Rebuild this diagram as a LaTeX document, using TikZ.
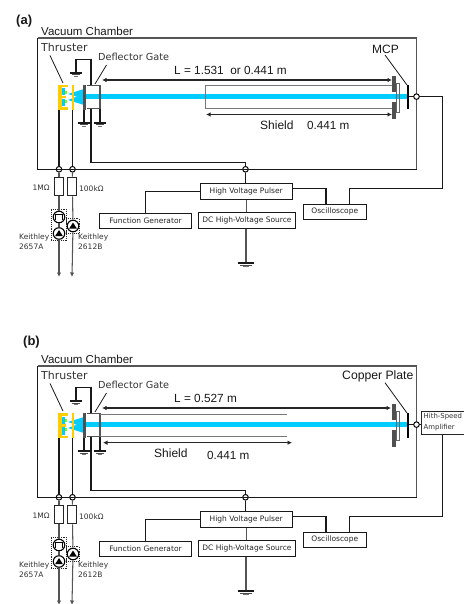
\documentclass[tikz,border=0pt]{standalone}
\usepackage{fontspec}
\setmainfont{Liberation Sans}
\newfontfamily\dvf{DejaVu Sans}
\usetikzlibrary{arrows.meta}
\definecolor{beam}{RGB}{0,204,255}
\definecolor{thr}{RGB}{255,204,0}
\definecolor{plate}{RGB}{80,80,80}
\definecolor{edge}{RGB}{85,85,85}
\definecolor{rail}{RGB}{120,120,120}
\tikzset{
  x=1pt,y=-1pt,
  wire/.style={line width=1.05pt,black!90},
  gwire/.style={line width=1.05pt,edge},
  arr/.style={line width=1.05pt,black!85,-{Latex[length=4.5pt,width=4.5pt]}},
  darr/.style={line width=1.05pt,black!85,{Latex[length=4.5pt,width=4.5pt]}-{Latex[length=4.5pt,width=4.5pt]}},
  box/.style={draw=black!90,line width=1.05pt,fill=white,inner sep=0,font=\dvf\fontsize{7.5}{9}\selectfont,text=black!85},
  jn/.style={circle,draw=black,line width=1pt,fill=white,inner sep=0,minimum size=5.6pt},
  meter/.style={circle,draw=black,line width=1.1pt,fill=white,inner sep=0,minimum size=11.5pt},
  res/.style={draw=black!85,line width=1.05pt,fill=white,inner sep=0,minimum width=9pt,minimum height=18.5pt},
  dbox/.style={draw=black!85,densely dotted,line width=0.9pt,inner sep=0},
  vs/.style={inner sep=0,anchor=west,font=\dvf\fontsize{7.5}{9}\selectfont,text=black!80},
  big/.style={inner sep=0,anchor=west,text=black!90},
  gnd/.pic={
    \draw[line width=1.05pt,black!90] (-6,0)--(6,0);
    \draw[line width=1pt,black!70] (-4.2,2)--(4.2,2);
    \draw[line width=1pt,black!55] (-2.2,3.8)--(2.2,3.8);
  }
}
\newcommand{\commonpanel}[1]{%
  % beam and thruster
  \fill[beam] (83,94) rectangle (407,99.3);
  \fill[beam] (68,94) -- (84,89) -- (84,99) -- cycle;
  \fill[beam] (68,100) -- (84,94) -- (84,105) -- cycle;
  \fill[thr] (58.3,85) rectangle (62,110);
  \fill[thr] (58.3,85) rectangle (67.5,87.5);
  \fill[thr] (58.3,96) rectangle (66,98.5);
  \fill[thr] (58.3,107.5) rectangle (67.5,110);
  \fill[beam] (62,88.5) rectangle (64.5,95.5);
  \fill[beam] (62,99) rectangle (64.5,106.5);
  \fill[green!55!yellow] (64.5,91) rectangle (66.5,94);
  \fill[green!55!yellow] (64.5,100) rectangle (66.5,103);
  \fill[thr] (71.5,85) rectangle (74,110);
  % chamber
  \coordinate (tl) at (37.5,38);
  \coordinate (tr) at (416.5,38);
  \coordinate (bl) at (37.5,169.3);
  \draw[gwire] (tl) -- (tr);
  \node[jn] (jbot) at (245.5,169.3) {};
  \node[jn] (jr1) at (59,169.3) {};
  \node[jn] (jr2) at (72.5,169.3) {};
  % gate
  \coordinate (gatetop) at (91,85.5);
  \coordinate (gatebot) at (91,108.5);
  \coordinate (g0) at (76,73);
  \coordinate (g1) at (84,123);
  \coordinate (g2) at (100,123);
  \coordinate (cornerb) at (91,162.7);
  \draw[wire] (gatetop) |- (g0 |- 0,59.5) -- (g0);
  \pic at (g0) {gnd};
  \draw[wire] (g1 |- 0,110) -- (g1);
  \draw[wire] (g2 |- 0,108) -- (g2);
  \pic at (g1) {gnd};
  \pic at (g2) {gnd};
  \draw[wire] (gatebot) -- (cornerb) -- (245.5,162.7) -- (jbot);
  \draw[line width=1.5pt,plate] (87,85.5) -- (99,85.5);
  \draw[line width=1.5pt,plate] (87,108.5) -- (99,108.5);
  \fill[plate] (83,85) rectangle (86,110);
  \draw[line width=1.5pt,edge] (100,85) -- (100,109);
  % collector
  \fill[plate] (392,76) rectangle (396,92);
  \fill[plate] (392,102) rectangle (396,119);
  \draw[line width=0.8pt,black!60] (396,83) rectangle (399.8,112);
  \fill[black] (407,85) rectangle (409.3,109.5);
  % thruster wires
  \draw[wire] (59,110) -- (jr1);
  \draw[wire] (72.5,110) -- (jr2);
  % resistors and meters
  \node[res] (r1) at (59,186.5) {};
  \node[res] (r2) at (72.4,186.5) {};
  \draw[gwire] (jr1) -- (r1);
  \draw[gwire] (jr2) -- (r2);
  \node[dbox,minimum width=15pt,minimum height=31.5pt] (k1) at (58.8,225) {};
  \node[dbox,minimum width=13pt,minimum height=14.5pt] (k2) at (72.8,226) {};
  \node[meter] (m1) at (59,217) {};
  \node[meter] (m2) at (59,233.5) {};
  \node[meter] (m3) at (73,226) {};
  \draw[line width=0.9pt] (55.5,220) -- (55.5,214.5) -- (62.5,214.5) -- (62.5,220);
  \fill[black] (59,230) -- (62.8,236) -- (55.2,236) -- cycle;
  \fill[black] (73,222.5) -- (76.8,228.5) -- (69.2,228.5) -- cycle;
  \coordinate (e1) at (59,277);
  \coordinate (e2) at (72,277);
  \draw[gwire] (r1) -- (m1);
  \draw[gwire] (m1) -- (m2);
  \draw[gwire] (r2) -- (m3);
  \draw[arr,edge] (m2) -- (e1);
  \draw[arr,edge] (m3) -- (e2);
  % instruments
  \node[box,minimum width=92.3pt,minimum height=15.6pt] (pulser) at (246.2,191.5) {High Voltage Pulser};
  \node[box,minimum width=96.6pt,minimum height=16.3pt] (dc) at (247,220.2) {DC High-Voltage Source};
  \node[box,minimum width=92.4pt,minimum height=15.4pt] (fg) at (145.5,221) {Function Generator};
  \node[box,minimum width=63pt,minimum height=15pt] (osc) at (334.8,211.8) {Oscilloscope};
  \coordinate (g3) at (246,263);
  \coordinate (pr) at (292.3,188.3);
  \coordinate (ol) at (326,204.3);
  \coordinate (ot) at (349.3,204.3);
  \draw[wire] (jbot) -- (pulser.north -| jbot);
  \draw[gwire] (pulser.south) -- (dc.north -| pulser.south);
  \draw[gwire] (dc.south -| g3) -- (g3);
  \pic[xscale=1.4] at (g3) {gnd};
  \draw[wire] (pulser.west) -| (fg.north);
  \draw[wire] (pr) -| (ol);
  % labels
  \node[big,font=\fontsize{11.5}{13}\selectfont] (vc) at (41,31) {Vacuum Chamber};
  \node[vs,font=\dvf\fontsize{11}{13}\selectfont] (tt) at (41,47.5) {Thruster};
  \node[vs,font=\dvf\fontsize{9.7}{11}\selectfont] (dg) at (98,57) {Deflector Gate};
  \draw[line width=0.8pt,black!90] (50,55.5) -- (63,83);
  \draw[line width=0.8pt,black!90] (106.5,65) -- (95,84);
  \node[vs] (l1) at (32.5,187.5) {1MΩ};
  \node[vs] (l2) at (79,188.5) {100kΩ};
  \node[vs] (l3) at (19,237) {Keithley};
  \node[vs] (l4) at (19,246.5) {2657A};
  \node[vs] (l5) at (78,237.5) {Keithley};
  \node[vs] (l6) at (78,247) {2612B};
}
\begin{document}
\begin{tikzpicture}
\useasboundingbox (0,0) rectangle (463,604);
\fill[white] (0,0) rectangle (463,604);
% ---------- panel (a)
\begin{scope}[name prefix=a-]
  \commonpanel{a}
  \node[big,font=\bfseries\fontsize{13}{15}\selectfont] (tag) at (16,21) {(a)};
  \draw[wire] (37.5,38) -- (37.5,169.3) -- (416.5,169.3);
  \draw[gwire] (416.5,38) -- (416.5,169.3);
  \draw[line width=1.3pt,rail] (392,85.7) -- (205.7,85.7) -- (205.7,108.3) -- (392,108.3);
  \coordinate (ls) at (102,80);
  \coordinate (le) at (392,80);
  \coordinate (ss) at (206,114.5);
  \coordinate (se) at (392,114.5);
  \draw[darr] (ls) -- (le);
  \draw[darr] (ss) -- (se);
  \node[big,font=\fontsize{11.8}{13}\selectfont] (lab) at (174,70) {L = 1.531\ \ or 0.441 m};
  \node[big,font=\fontsize{12}{14}\selectfont] (sh) at (260,125) {Shield};
  \node[big,font=\fontsize{11.7}{13}\selectfont] (shv) at (307,125) {0.441 m};
  \node[big,font=\fontsize{12}{14}\selectfont] (mcp) at (372,49.5) {MCP};
  \draw[line width=0.8pt,black!90] (385,55) -- (407,85);
  \node[jn] (out) at (416.5,96.6) {};
  \draw[wire] (409,96.6) -- (out);
  \draw[wire] (out) -| (442.3,188.3) -- (349.3,188.3) -- (ot);
\end{scope}
% ---------- panel (b)
\begin{scope}[shift={(0,328)},name prefix=b-]
  \commonpanel{b}
  \node[big,font=\bfseries\fontsize{13}{15}\selectfont] (tag) at (23,14) {(b)};
  \draw[wire] (37.5,38) -- (37.5,169.3) -- (416.5,169.3);
  \draw[gwire] (416.5,38) -- (416.5,169.3);
  \draw[line width=1.3pt,rail] (100,86.7) -- (286.7,86.7);
  \draw[line width=1.3pt,rail] (100,108.7) -- (286.7,108.7);
  \coordinate (ls) at (102,80);
  \coordinate (le) at (391,80);
  \coordinate (ss) at (103,114.7);
  \coordinate (se) at (292,114.7);
  \draw[darr] (ls) -- (le);
  \draw[darr] (ss) -- (se);
  \node[big,font=\fontsize{11.8}{13}\selectfont] (lab) at (174,70) {L = 0.527 m};
  \node[big,font=\fontsize{12}{14}\selectfont] (sh) at (154,125) {Shield};
  \node[big,font=\fontsize{11.7}{13}\selectfont] (shv) at (207,127) {0.441 m};
  \node[big,font=\fontsize{12.2}{14}\selectfont] (cu) at (342,48) {Copper Plate};
  \draw[line width=0.8pt,black!90] (385,54.7) -- (407,85);
  \node[jn] (out) at (416.5,96.6) {};
  \draw[wire] (409,96.6) -- (out);
  \node[draw=black!85,line width=1pt,fill=white,inner sep=0,minimum width=46pt,minimum height=23.3pt] (amp) at (444.7,95.3) {};
  \node[vs,font=\dvf\fontsize{6.9}{9}\selectfont] (a1) at (423.5,89) {Hith-Speed};
  \node[vs,font=\dvf\fontsize{6.9}{9}\selectfont] (a2) at (423.5,99.5) {Amplifier};
  \draw[wire] (out) -- (amp.west |- out);
  \draw[wire] (442.3,107) -- (442.3,188.3) -- (349.3,188.3) -- (ot);
\end{scope}
\end{tikzpicture}
\end{document}
